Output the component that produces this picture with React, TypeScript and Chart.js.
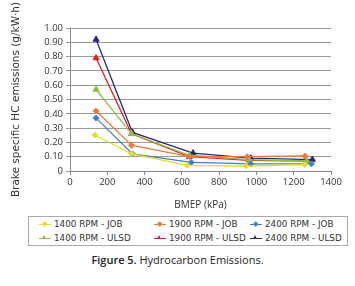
import React, { useEffect, useRef } from "react";
import { Chart, registerables } from "chart.js";

Chart.register(...registerables);

const xTicks = [0, 200, 400, 600, 800, 1000, 1200, 1400];
const yTicks = [0, 0.1, 0.2, 0.3, 0.4, 0.5, 0.6, 0.7, 0.8, 0.9, 1.0];

const bmep1400Job = [134, 330, 630, 945, 1260];
const hc1400Job = [0.25, 0.12, 0.04, 0.035, 0.045];
const bmep1400Ulsd = [140, 330, 640, 960, 1270];
const hc1400Ulsd = [0.57, 0.26, 0.11, 0.08, 0.07];
const bmep1900Job = [140, 330, 640, 950, 1260];
const hc1900Job = [0.42, 0.18, 0.1, 0.1, 0.105];
const bmep1900Ulsd = [140, 330, 640, 960, 1270];
const hc1900Ulsd = [0.79, 0.26, 0.1, 0.075, 0.07];
const bmep2400Job = [140, 335, 650, 970, 1295];
const hc2400Job = [0.37, 0.12, 0.06, 0.05, 0.05];
const bmep2400Ulsd = [140, 335, 660, 970, 1300];
const hc2400Ulsd = [0.92, 0.27, 0.125, 0.09, 0.08];

const seriesLabels = [
  "1400 RPM - JOB",
  "1900 RPM - JOB",
  "2400 RPM - JOB",
  "1400 RPM - ULSD",
  "1900 RPM - ULSD",
  "2400 RPM - ULSD",
];

const FONT = "'Open Sans', 'DejaVu Sans', sans-serif";
const WIDE = "'DejaVu Sans', sans-serif";

type S = { label: string; xs: number[]; ys: number[]; color: string; style: string };

const series: S[] = [
  { label: seriesLabels[0], xs: bmep1400Job, ys: hc1400Job, color: "#e3de2e", style: "rectRot" },
  { label: seriesLabels[1], xs: bmep1900Job, ys: hc1900Job, color: "#ec7a3c", style: "rectRot" },
  { label: seriesLabels[2], xs: bmep2400Job, ys: hc2400Job, color: "#3f82c4", style: "rectRot" },
  { label: seriesLabels[3], xs: bmep1400Ulsd, ys: hc1400Ulsd, color: "#92bf3e", style: "triangle" },
  { label: seriesLabels[4], xs: bmep1900Ulsd, ys: hc1900Ulsd, color: "#e01f1f", style: "triangle" },
  { label: seriesLabels[5], xs: bmep2400Ulsd, ys: hc2400Ulsd, color: "#27287f", style: "triangle" },
];

function LegendItem({ s }: { s: S }) {
  const marker =
    s.style === "triangle" ? (
      <span
        style={{
          position: "absolute",
          left: 3,
          top: 0,
          width: 0,
          height: 0,
          borderLeft: "2.5px solid transparent",
          borderRight: "2.5px solid transparent",
          borderBottom: `4px solid ${s.color}`,
        }}
      />
    ) : (
      <span
        style={{
          position: "absolute",
          left: 4,
          top: 1,
          width: 3.5,
          height: 3.5,
          background: s.color,
          transform: "rotate(45deg)",
        }}
      />
    );
  return (
    <div style={{ display: "flex", alignItems: "center", height: 12 }}>
      <span style={{ position: "relative", width: 12, height: 6, marginRight: 3 }}>
        <span style={{ position: "absolute", left: 0, top: 3, width: 12, height: 1, background: s.color }} />
        {marker}
      </span>
      <span>{s.label}</span>
    </div>
  );
}

export default function App() {
  const ref = useRef<HTMLCanvasElement>(null);

  useEffect(() => {
    document.body.style.margin = "0";
    const ctx = ref.current!;
    const chart = new Chart(ctx, {
      type: "line",
      data: {
        datasets: series.map((s) => ({
          label: s.label,
          data: s.xs.map((x, i) => ({ x, y: s.ys[i] })),
          borderColor: s.color,
          backgroundColor: s.color,
          pointStyle: s.style as any,
          pointRadius: s.style === "triangle" ? 3.5 : 3,
          pointBorderWidth: 1,
          borderWidth: 1.3,
          tension: 0,
        })),
      },
      options: {
        responsive: false,
        animation: false,
        layout: { padding: { top: 28, right: 24, left: 10, bottom: 0 } },
        plugins: { legend: { display: false }, tooltip: { enabled: false } },
        scales: {
          x: {
            type: "linear",
            min: 0,
            max: 1400,
            afterBuildTicks: (scale: any) => {
              scale.ticks = xTicks.map((v) => ({ value: v }));
            },
            afterFit: (scale: any) => {
              scale.height = 40;
            },
            ticks: {
              color: "#333",
              font: { family: FONT, size: 9.5 },
              padding: 2,
              maxRotation: 0,
              autoSkip: false,
              callback: (v: any) => String(v),
            },
            grid: { drawOnChartArea: false, drawTicks: true, tickLength: 4, color: "#888" },
            border: { color: "#888" },
            title: {
              display: true,
              text: "BMEP (kPa)",
              color: "#333",
              font: { family: FONT, size: 10 },
              padding: { top: 4, bottom: 0 },
            },
          },
          y: {
            min: 0,
            max: 1,
            afterBuildTicks: (scale: any) => {
              scale.ticks = yTicks.map((v) => ({ value: v }));
            },
            afterFit: (scale: any) => {
              scale.width = 60;
            },
            ticks: {
              color: "#333",
              font: { family: FONT, size: 9.5 },
              padding: 3,
              autoSkip: false,
              callback: (v: any) => (Number(v) === 0 ? "0" : Number(v).toFixed(2)),
            },
            grid: { color: "#9a9a9a", lineWidth: 1, drawTicks: true, tickLength: 4 },
            border: { color: "#888" },
            title: {
              display: true,
              text: "Brake specific HC emissions (g/kW·h)",
              color: "#333",
              font: { family: WIDE, size: 10.5 },
              padding: { top: 0, bottom: 0 },
            },
          },
        },
      },
    });
    return () => chart.destroy();
  }, []);

  return (
    <div style={{ position: "relative", width: 355, height: 286, background: "#fff", fontFamily: FONT }}>
      <canvas ref={ref} width={355} height={211} style={{ position: "absolute", left: 0, top: 0 }} />
      <div
        style={{
          position: "absolute",
          left: 28,
          top: 216,
          width: 320,
          height: 30,
          border: "1px solid #aaa",
          boxSizing: "border-box",
          display: "grid",
          gridTemplateColumns: "115px 96px 100px",
          paddingLeft: 10,
          paddingTop: 1,
          fontFamily: WIDE,
          fontSize: 8.8,
          color: "#333",
          lineHeight: "12px",
        }}
      >
        {series.map((s) => (
          <LegendItem key={s.label} s={s} />
        ))}
      </div>
      <div
        style={{
          position: "absolute",
          left: 0,
          width: 355,
          top: 252,
          textAlign: "center",
          fontSize: 11,
          color: "#222",
        }}
      >
        <span style={{ fontWeight: 600 }}>Figure 5.</span> Hydrocarbon Emissions.
      </div>
    </div>
  );
}
